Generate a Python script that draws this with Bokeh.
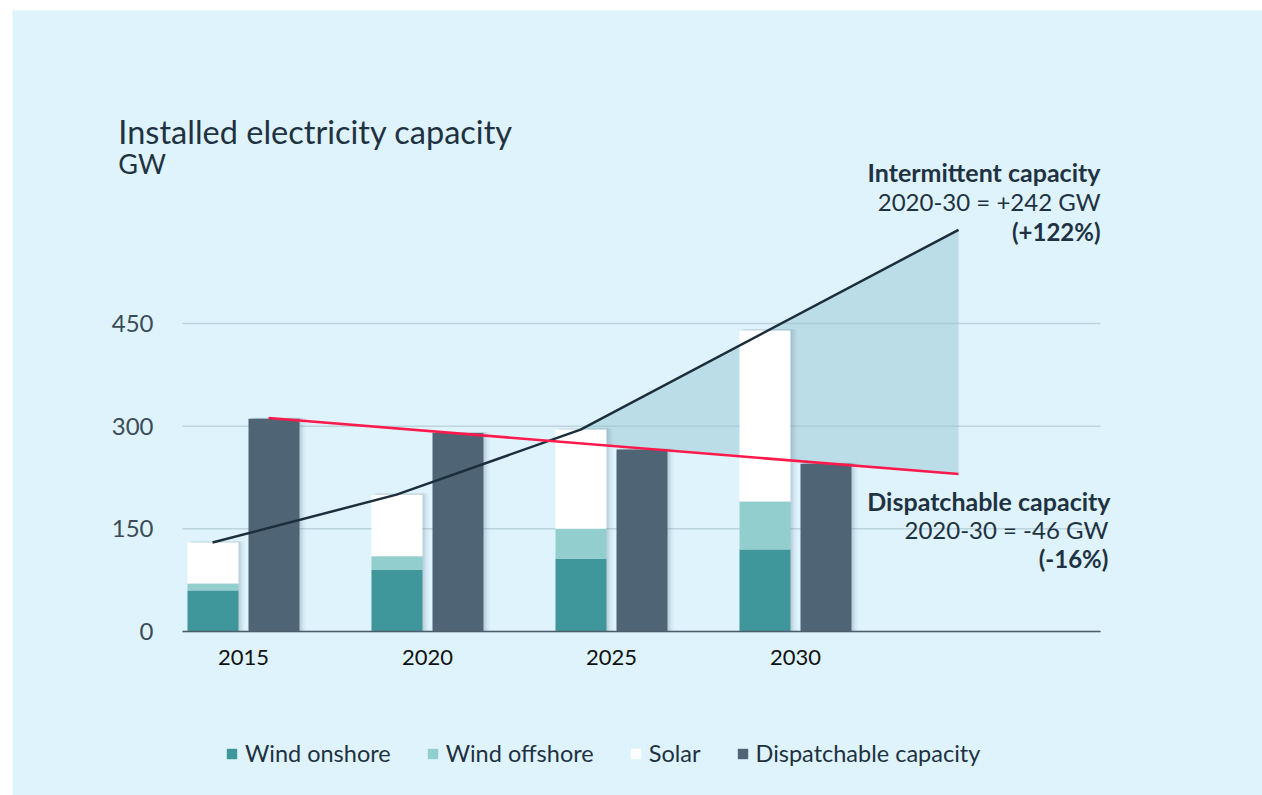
import numpy as np
from bokeh.plotting import figure
from bokeh.models import Range1d, FixedTicker, Label, Legend, LegendItem
from bokeh.embed import file_html
from bokeh.resources import INLINE

# ---------------- data ----------------
years = ["2015", "2020", "2025", "2030"]
wind_onshore = [60, 90, 106, 120]
wind_offshore = [10, 20, 44, 70]
solar = [60, 90, 145, 250]
dispatchable = [311, 290, 266, 245]

# trend lines (x in years, y in GW)
intermittent_trend_x = [2014.16, 2019.16, 2024.16, 2034.43]
intermittent_trend_y = [130, 200, 295, 587]
dispatchable_trend_x = [2015.68, 2034.43]
dispatchable_trend_y = [312, 230]

y_ticks = [0, 150, 300, 450]
series_names = ["Wind onshore", "Wind offshore", "Solar", "Dispatchable capacity"]

# ---------------- style ----------------
BG = "#def3fc"
C_ON = "#3f979b"
C_OFF = "#93cece"
C_SOL = "#ffffff"
C_DISP = "#4f6575"
C_TXT = "#1e3242"
FONT = "Lato"

X0, X1 = 2013.342, 2038.288      # extent of axis / grid
yr = np.array([float(y) for y in years])
OFF = 0.829      # half distance between the two bars of a group (years)
BW = 1.386       # bar width (years)
x_ren = yr - OFF
x_dis = yr + OFF

p = figure(width=1250, height=785, output_backend="svg", toolbar_location=None,
           x_range=Range1d(2008.723, 2042.690), y_range=Range1d(-239.6, 907.4),
           min_border_left=0, min_border_right=0, min_border_top=0,
           min_border_bottom=0)
p.margin = (10, 0, 0, 12)
p.title.visible = False
p.background_fill_color = BG
p.border_fill_color = BG
p.outline_line_color = None

# grid lines
p.xgrid.visible = False
p.ygrid.visible = False
p.segment(x0=[X0] * len(y_ticks), x1=[X1] * len(y_ticks), y0=y_ticks, y1=y_ticks,
          line_color="#bcd4de", line_width=1.5)

# shaded area between the trend lines (after crossing)
bx = np.array(intermittent_trend_x)
by = np.array(intermittent_trend_y)
diff = by - np.interp(bx, dispatchable_trend_x, dispatchable_trend_y)
px, py = [], []
for k in range(len(bx) - 1):
    if diff[k] < 0 <= diff[k + 1]:
        t = -diff[k] / (diff[k + 1] - diff[k])
        xi = bx[k] + t * (bx[k + 1] - bx[k])
        yi = by[k] + t * (by[k + 1] - by[k])
        px = [xi] + list(bx[k + 1:]) + [dispatchable_trend_x[-1]]
        py = [yi] + list(by[k + 1:]) + [dispatchable_trend_y[-1]]
        break
p.patch(px, py, fill_color="#95c4d2", fill_alpha=0.48, line_color=None)

# bar shadows
tot_ren = np.array(wind_onshore) + np.array(wind_offshore) + np.array(solar)
for dx, a in [(0.16, 0.05), (0.10, 0.07), (0.05, 0.09)]:
    p.vbar(x=x_ren + dx, top=tot_ren + 1.5, bottom=0, width=BW, fill_color="#35586a",
           fill_alpha=a, line_color=None)
    p.vbar(x=x_dis + dx, top=np.array(dispatchable) + 1.5, bottom=0, width=BW,
           fill_color="#35586a", fill_alpha=a, line_color=None)

# stacked renewable bars
src = dict(x=x_ren, on=wind_onshore, off=wind_offshore, sol=solar)
rs = p.vbar_stack(["on", "off", "sol"], x="x", width=BW, source=src,
                  color=[C_ON, C_OFF, C_SOL], line_color=None)
rd = p.vbar(x=x_dis, top=dispatchable, bottom=0, width=BW, fill_color=C_DISP,
            line_color=None)

# trend lines
p.line(intermittent_trend_x, intermittent_trend_y, line_color="#1c2e3c", line_width=2.5)
p.line(dispatchable_trend_x, dispatchable_trend_y, line_color="#ff1a4b", line_width=2.5)

# axes (drawn inside the frame at fixed locations)
p.xaxis.fixed_location = 0
p.xaxis.bounds = (X0, X1)
p.xaxis.ticker = FixedTicker(ticks=list(yr))
p.xaxis.major_label_overrides = {float(y): y for y in years}
p.xaxis.axis_line_color = "#4b5d69"
p.xaxis.axis_line_width = 1.5
p.xaxis.major_tick_line_color = None
p.xaxis.minor_tick_line_color = None
p.xaxis.major_label_standoff = 12
p.xaxis.major_label_text_font = FONT
p.xaxis.major_label_text_font_size = "22px"
p.xaxis.major_label_text_color = "#111111"

p.yaxis.fixed_location = X0
p.yaxis.ticker = FixedTicker(ticks=y_ticks)
p.yaxis.axis_line_color = None
p.yaxis.major_tick_line_color = None
p.yaxis.minor_tick_line_color = None
p.yaxis.major_label_standoff = 23
p.yaxis.major_label_text_font = FONT
p.yaxis.major_label_text_font_size = "24px"
p.yaxis.major_label_text_color = "#3b4b57"

# titles
p.add_layout(Label(x=2011.60, y=730.6, text="Installed electricity capacity",
                   text_font=FONT, text_font_size="32.5px", text_color=C_TXT,
                   text_baseline="middle", text_align="left"))
p.add_layout(Label(x=2011.60, y=684.0, text="GW", text_font=FONT,
                   text_font_size="27px", text_color=C_TXT,
                   text_baseline="middle", text_align="left"))

# annotations
ann = [
    (2038.288, 670.7, "Intermittent capacity", "bold", "25px"),
    (2038.288, 628.3, "2020-30 = +242 GW", "normal", "24px"),
    (2038.288, 584.4, "(+122%)", "bold", "24px"),
    (2038.56, 191.4, "Dispatchable capacity", "bold", "25px"),
    (2038.50, 149.0, "2020-30 = -46 GW", "normal", "24px"),
    (2038.50, 106.7, "(-16%)", "bold", "24px"),
]
for x, y, t, st, fs in ann:
    p.add_layout(Label(x=x, y=y, text=t, text_font=FONT, text_font_size=fs,
                       text_font_style=st, text_color=C_TXT,
                       text_baseline="middle", text_align="right"))

# legend
items = [LegendItem(label=series_names[i], renderers=[rs[i]]) for i in range(3)]
items.append(LegendItem(label=series_names[3], renderers=[rd]))
legend = Legend(items=items, orientation="horizontal", location=(213, 28),
                glyph_width=13, glyph_height=13, label_standoff=7, spacing=35,
                padding=0, margin=0, border_line_alpha=0, background_fill_alpha=0,
                label_text_font=FONT, label_text_font_size="23.5px",
                label_text_color=C_TXT)
p.add_layout(legend)

open("out.html", "w").write(file_html(p, INLINE))
